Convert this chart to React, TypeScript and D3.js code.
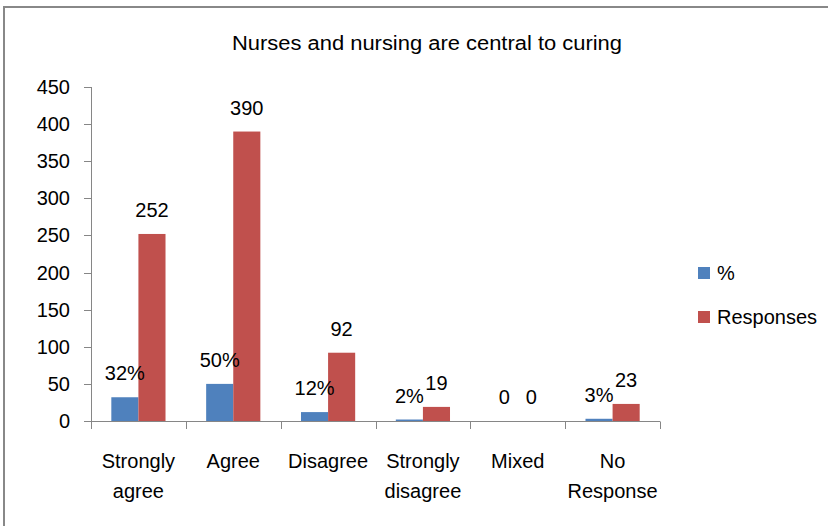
import React from 'react';
import * as d3 from 'd3';

const categories = [['Strongly', 'agree'], ['Agree'], ['Disagree'], ['Strongly', 'disagree'], ['Mixed'], ['No', 'Response']];
const percentValues = [32, 50, 12, 2, 0, 3];
const percentLabels = ['32%', '50%', '12%', '2%', '0', '3%'];
const responseValues = [252, 390, 92, 19, 0, 23];
const responseLabels = ['252', '390', '92', '19', '0', '23'];
const yTicks = [0, 50, 100, 150, 200, 250, 300, 350, 400, 450];

const width = 828;
const height = 526;
const font = '"Liberation Sans", Arial, sans-serif';
const axisColor = '#868686';
const blue = '#4f81bd';
const red = '#c0504d';

const App = () => {
  const x = d3.scaleBand<number>().domain(d3.range(categories.length)).range([91, 660]);
  const y = d3.scaleLinear().domain([0, 450]).range([421, 87]);
  const step = x.step();
  const barW = step / 3.5; // gap width 150%
  const gap = barW * 0.75;

  const series = [
    { name: '%', values: percentValues, labels: percentLabels, color: blue, offset: 0 },
    { name: 'Responses', values: responseValues, labels: responseLabels, color: red, offset: 1 },
  ];

  return (
    <svg width={width} height={height} style={{ position: 'absolute', left: 0, top: 0, background: '#fff' }} fontFamily={font}>
      <rect x={0} y={0} width={width} height={height} fill="#fff" />
      {/* chart border (top + left visible) */}
      <line x1={4} x2={828} y1={7} y2={7} stroke="#888" strokeWidth={2} />
      <line x1={4} x2={4} y1={6} y2={526} stroke="#888" strokeWidth={2} />

      <text x={427} y={50} textAnchor="middle" fontSize={20} textLength={390} lengthAdjust="spacingAndGlyphs" fill="#000">
        Nurses and nursing are central to curing
      </text>

      {/* y axis */}
      <line x1={91.5} x2={91.5} y1={y(450)} y2={y(0)} stroke={axisColor} />
      {yTicks.map(t => (
        <g key={t}>
          <line x1={84} x2={91.5} y1={Math.round(y(t)) + 0.5} y2={Math.round(y(t)) + 0.5} stroke={axisColor} />
          <text x={70} y={y(t) + 7} textAnchor="end" fontSize={20} fill="#000">{t}</text>
        </g>
      ))}

      {/* bars */}
      {series.map(s => s.values.map((v, i) => {
        const bx = x(i)! + gap + s.offset * barW;
        return (
          <rect key={s.name + i} x={bx} y={y(v)} width={barW} height={y(0) - y(v)} fill={s.color} />
        );
      }))}

      {/* x axis */}
      <line x1={91} x2={660} y1={421.5} y2={421.5} stroke={axisColor} />
      {d3.range(categories.length + 1).map(i => {
        const tx = Math.round(91 + i * step) + 0.5;
        return <line key={i} x1={tx} x2={tx} y1={421.5} y2={429} stroke={axisColor} />;
      })}

      {/* data labels */}
      {series.map(s => s.values.map((v, i) => {
        const cx = x(i)! + gap + s.offset * barW + barW / 2;
        return (
          <text key={'l' + s.name + i} x={cx} y={y(v) - 17} textAnchor="middle" fontSize={20} fill="#000">
            {s.labels[i]}
          </text>
        );
      }))}

      {/* category labels */}
      {categories.map((lines, i) => (
        <text key={'c' + i} x={x(i)! + step / 2} y={468} textAnchor="middle" fontSize={20} fill="#000">
          {lines.map((ln, j) => (
            <tspan key={j} x={x(i)! + step / 2} dy={j === 0 ? 0 : 30}>{ln}</tspan>
          ))}
        </text>
      ))}

      {/* legend */}
      {series.map((s, i) => (
        <g key={'lg' + s.name} transform={`translate(698, ${267 + i * 44})`}>
          <rect x={0} y={0} width={12} height={12} fill={s.color} />
          <text x={19} y={13} fontSize={20} fill="#000">{s.name}</text>
        </g>
      ))}
    </svg>
  );
};

export default App;
